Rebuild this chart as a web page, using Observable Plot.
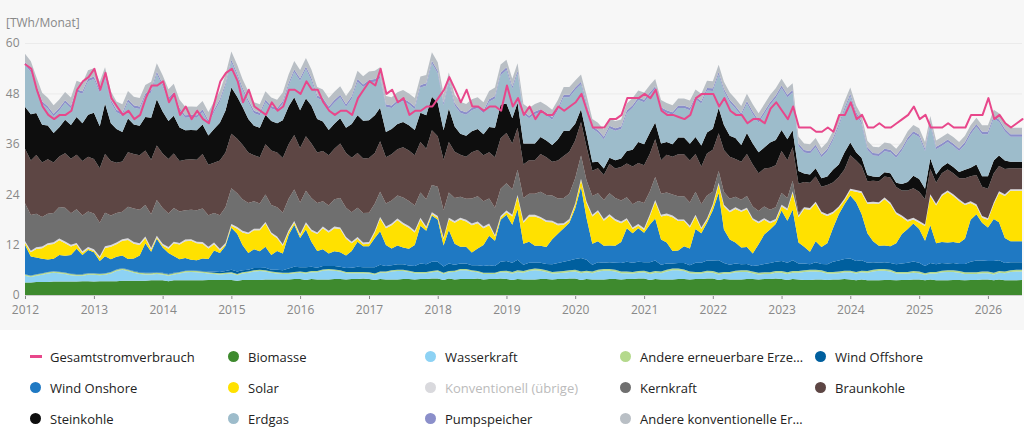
<!DOCTYPE html>
<html><head><meta charset="utf-8">
<script src="https://cdn.jsdelivr.net/npm/d3@7"></script>
<script src="https://cdn.jsdelivr.net/npm/@observablehq/plot@0.6"></script>
<style>
body{margin:0;background:#fff;font-family:"Open Sans",Roboto,sans-serif;}
#wrap{position:relative;width:1024px;}
#chart{background:#f7f7f7;height:330px;}
#unit{position:absolute;left:6px;top:14px;font-size:12px;color:#888;}
#legend{display:grid;grid-template-columns:198px 197px 195px 195px 200px;padding:17px 0 0 30px;row-gap:12px;font-size:13px;color:#222;}
.it{display:flex;align-items:center;white-space:nowrap;height:19px}
.dot{width:11px;height:11px;border-radius:50%;margin-right:9px;display:inline-block}
.ln{width:12px;height:3px;margin-right:8px;display:inline-block}
</style></head><body>
<div id="wrap"><div id="unit">[TWh/Monat]</div><div id="chart"></div><div id="legend"></div></div>
<script>
const seriesNames=["Biomasse","Wasserkraft","Andere erneuerbare Erze…","Wind Offshore","Wind Onshore","Solar","Konventionell (übrige)","Kernkraft","Braunkohle","Steinkohle","Erdgas","Pumpspeicher","Andere konventionelle Er…"];
const colors=["#3e8a2e","#8dd2f4","#b4d98c","#005f9e","#1f79c3","#ffe100","#d9d9dd","#6f6f6f","#5d4644","#0e0e0e","#9dbccb","#8b8fca","#b9bfc5"];
const biomasse=[
3.0,3.0,3.1,3.1,3.1,3.2,3.2,3.2,3.2,3.2,3.3,3.3,
3.2,3.3,3.3,3.3,3.3,3.4,3.4,3.4,3.4,3.4,3.5,3.5,
3.5,3.3,3.5,3.5,3.5,3.5,3.5,3.5,3.6,3.6,3.6,3.6,
3.6,3.4,3.6,3.6,3.6,3.6,3.7,3.7,3.7,3.7,3.7,3.8,
3.8,3.6,3.8,3.7,3.7,3.7,3.8,3.8,3.7,3.8,3.8,3.9,
3.8,3.6,3.8,3.7,3.7,3.7,3.8,3.8,3.7,3.8,3.8,3.9,
3.9,3.6,3.9,3.7,3.8,3.8,3.8,3.9,3.7,3.8,3.8,3.9,
3.8,3.6,3.8,3.7,3.7,3.7,3.8,3.8,3.7,3.8,3.8,3.9,
3.9,3.6,3.8,3.7,3.7,3.7,3.8,3.8,3.7,3.8,3.8,3.9,
3.9,3.6,3.8,3.7,3.7,3.7,3.8,3.8,3.7,3.8,3.8,3.9,
3.9,3.6,3.8,3.7,3.7,3.7,3.8,3.8,3.7,3.8,3.8,3.9,
3.8,3.6,3.8,3.7,3.6,3.6,3.7,3.7,3.6,3.7,3.7,3.8,
3.7,3.5,3.7,3.5,3.5,3.5,3.6,3.6,3.5,3.6,3.6,3.7,
3.7,3.5,3.7,3.5,3.5,3.5,3.6,3.6,3.5,3.6,3.6,3.7,
3.7,3.5,3.7,3.5,3.5,3.5,3.6];
const wasserkraft=[
1.6,1.3,1.5,1.7,2.0,2.1,2.0,1.8,1.5,1.4,1.3,1.5,
1.6,1.4,1.5,1.8,2.4,2.6,2.3,1.9,1.6,1.5,1.4,1.5,
1.4,1.3,1.4,1.6,1.9,2.0,1.9,1.8,1.5,1.4,1.3,1.4,
1.5,1.3,1.5,1.7,2.0,2.1,1.9,1.6,1.4,1.3,1.3,1.4,
1.5,1.5,1.6,1.7,2.1,2.2,2.0,1.8,1.5,1.4,1.4,1.3,
1.3,1.2,1.5,1.6,1.9,2.0,1.9,1.7,1.5,1.4,1.4,1.5,
1.7,1.4,1.5,1.8,2.1,2.1,1.8,1.5,1.3,1.2,1.2,1.5,
1.6,1.5,1.7,1.6,2.0,2.2,2.0,1.7,1.4,1.4,1.5,1.6,
1.7,1.6,1.6,1.5,1.9,2.1,2.0,1.8,1.5,1.4,1.3,1.4,
1.5,1.4,1.5,1.5,1.9,2.2,2.1,1.9,1.5,1.3,1.3,1.5,
1.4,1.3,1.3,1.4,1.7,1.8,1.7,1.4,1.2,1.2,1.2,1.4,
1.5,1.4,1.5,1.6,1.9,2.0,1.9,1.8,1.5,1.4,1.5,1.6,
1.7,1.6,1.7,1.8,2.1,2.3,2.2,2.0,1.6,1.5,1.5,1.6,
1.5,1.3,1.4,1.6,1.9,2.0,1.9,1.7,1.5,1.4,1.4,1.5,
1.5,1.4,1.6,1.7,2.0,2.1,2.0];
const andereErn=[
0.3,0.3,0.3,0.3,0.3,0.3,0.3,0.3,0.3,0.3,0.3,0.3,
0.3,0.3,0.3,0.3,0.3,0.3,0.3,0.3,0.3,0.3,0.3,0.3,
0.3,0.3,0.3,0.3,0.3,0.3,0.3,0.3,0.3,0.3,0.3,0.3,
0.3,0.3,0.3,0.3,0.3,0.3,0.3,0.3,0.3,0.3,0.3,0.3,
0.3,0.3,0.3,0.3,0.3,0.3,0.3,0.3,0.3,0.3,0.3,0.3,
0.3,0.3,0.3,0.3,0.3,0.3,0.3,0.3,0.3,0.3,0.3,0.3,
0.3,0.3,0.3,0.3,0.3,0.3,0.3,0.3,0.3,0.3,0.3,0.3,
0.4,0.4,0.4,0.4,0.4,0.4,0.4,0.4,0.4,0.4,0.4,0.4,
0.4,0.4,0.4,0.4,0.4,0.4,0.4,0.4,0.4,0.4,0.4,0.4,
0.4,0.4,0.4,0.4,0.4,0.4,0.4,0.4,0.4,0.4,0.4,0.4,
0.4,0.4,0.4,0.4,0.4,0.4,0.4,0.4,0.4,0.4,0.4,0.4,
0.4,0.4,0.4,0.4,0.4,0.4,0.4,0.4,0.4,0.4,0.4,0.4,
0.4,0.4,0.4,0.4,0.4,0.4,0.4,0.4,0.4,0.4,0.4,0.4,
0.4,0.4,0.4,0.4,0.4,0.4,0.4,0.4,0.4,0.4,0.4,0.4,
0.4,0.4,0.4,0.4,0.4,0.4,0.4];
const windOffshore=[
0.05,0.05,0.05,0.05,0.05,0.05,0.05,0.05,0.05,0.1,0.1,0.1,
0.1,0.1,0.1,0.1,0.1,0.1,0.1,0.1,0.1,0.1,0.1,0.1,
0.1,0.1,0.1,0.1,0.1,0.1,0.1,0.1,0.2,0.3,0.3,0.4,
0.6,0.6,0.5,0.4,0.5,0.4,0.6,0.4,0.6,0.6,1.0,1.2,
1.0,1.2,1.0,0.8,0.8,0.7,0.8,0.8,0.9,1.0,1.2,1.1,
1.2,1.5,1.6,1.3,1.2,1.3,1.3,1.2,1.4,2.0,1.8,2.2,
2.0,1.5,1.8,1.4,1.3,1.3,1.2,1.4,1.6,1.8,1.6,2.2,
2.3,2.2,2.5,1.5,1.6,1.4,1.5,1.5,1.8,2.0,2.2,2.3,
2.6,3.2,2.6,1.6,1.8,1.5,1.6,1.7,2.0,2.3,2.2,2.2,
2.0,2.4,2.5,1.6,1.5,1.2,1.3,1.5,1.5,2.2,2.2,2.4,
2.5,3.0,2.1,1.7,1.7,1.4,1.5,1.3,1.8,2.0,2.2,2.2,
2.4,2.3,2.6,1.8,1.6,1.3,1.8,1.5,1.8,2.4,2.6,2.8,
2.9,2.6,2.5,2.0,1.8,1.5,1.6,1.6,1.8,2.0,2.2,2.3,
2.1,1.7,2.1,1.8,1.8,1.6,1.7,1.7,2.0,2.5,2.8,2.6,
2.5,2.8,2.6,2.0,1.9,1.8,1.8];
const windOnshore=[
7,4.5,4,3.5,3,3,4,4,4.5,6,4.5,5.5,
5,3,4,3,3,3,2.5,3,4,7,5,8,
6,5,4,3,3,2.5,2.5,3,3,5,4.5,6,
10,9,6,4,4.5,4,5,3.5,4.5,4,8,10,
7,9,6,4,4,3,3.5,3.5,3,4,6,5,
5,7,8,5,4,4.5,4,4,5,9,8,11,
10,5,8,5,4,4,3,4,5,7,6,10,
11,9,12,5,5,4,4,4,6,7,8,9,
12,17,10,5,5,4,4,4,5,8,7,8,
7,9,10,6,5,3,3,4,4,8,7,9,
12,16,8,6,5,4,4,3,5,7,8,9,
12,10,12,5,4,3,5,4,5,8,11,13,
15,14,11,7,5,4,4,4,5,7,8,9,
8,6,9,5,5,5,5,5,6,10,11,9,
8,10,9,6,5,5,5];
const solar=[
0.5,1,2,2.5,3.5,3.5,3.5,3,2,1,0.5,0.3,
0.3,0.7,2,3,3,3.5,4.5,3.5,2.5,1.2,0.5,0.3,
0.5,1,3,3.5,4,4.5,4,3.5,2.5,1.5,0.6,0.3,
0.5,1.2,3,4.5,4.5,5,5.5,5,3,1.8,0.7,0.5,
0.5,1.3,2.5,4,5,5,5.5,5.5,4,1.8,0.7,0.5,
0.6,1.3,3,4,5.5,6,5.5,5,3,1.5,0.6,0.4,
0.5,1.5,2.5,5,6.5,6,6.5,6,4,2.5,1,0.5,
0.6,2,3,5,6,7,6.5,6,4,2,0.8,0.5,
0.8,1.5,3.5,6.5,7,6,7,6,4.5,2,1,0.6,
0.7,2,4,5.5,6.5,8,7,6,5,3,1,0.6,
1,2,5.5,6.5,8,8.5,9,8,5,3.5,1.5,0.8,
1,2.5,4,6,9,10,9,8,6.5,3.5,1.5,0.9,
1.2,2.5,5,7,9,10,11,10,7,4,1.8,1,
1.5,3.5,7,9,11,12,11,10,8,4,2,1.2,
1.8,3.5,7,10,12,12,12];
const konvUebrige=[
0.4,0.4,0.4,0.4,0.4,0.4,0.4,0.4,0.4,0.4,0.4,0.4,
0.4,0.4,0.4,0.4,0.4,0.4,0.4,0.4,0.4,0.4,0.4,0.4,
0.4,0.4,0.4,0.4,0.4,0.4,0.4,0.4,0.4,0.4,0.4,0.4,
0.4,0.4,0.4,0.4,0.4,0.4,0.4,0.4,0.4,0.4,0.4,0.4,
0.4,0.4,0.4,0.4,0.4,0.4,0.4,0.4,0.4,0.4,0.4,0.4,
0.4,0.4,0.4,0.4,0.4,0.4,0.4,0.4,0.4,0.4,0.4,0.4,
0.4,0.4,0.4,0.4,0.4,0.4,0.4,0.4,0.4,0.4,0.4,0.4,
0.4,0.4,0.4,0.4,0.4,0.4,0.4,0.4,0.4,0.4,0.4,0.4,
0.4,0.4,0.4,0.4,0.4,0.4,0.4,0.4,0.4,0.4,0.4,0.4,
0.4,0.4,0.4,0.4,0.4,0.4,0.4,0.4,0.4,0.4,0.4,0.4,
0.4,0.4,0.4,0.4,0.4,0.4,0.4,0.4,0.4,0.4,0.4,0.4,
0.4,0.4,0.4,0.4,0.4,0.4,0.4,0.4,0.4,0.4,0.4,0.4,
0.4,0.4,0.4,0.4,0.4,0.4,0.4,0.4,0.4,0.4,0.4,0.4,
0.4,0.4,0.4,0.4,0.4,0.4,0.4,0.4,0.4,0.4,0.4,0.4,
0.4,0.4,0.4,0.4,0.4,0.4,0.4];
const kernkraft=[
9,8.5,8,7,7,7,7.5,8,7.5,8,8.5,8.5,
8.5,8,8,7,7,6.5,7.5,8,8,7.5,8,8.5,
8.5,8,8,7.5,7,7,7.5,8,7.5,7,8,8.5,
8.5,8,7.5,7,6.5,6,6.5,6.5,7,7.5,7.5,7.5,
7.5,7.5,7.5,7,6,6,6.5,7,7,7,7,7,
7,6.5,6,5.5,5.5,5.5,6,6,6,6,6.5,6.5,
7,6.5,6,5.5,5,5,6,6,6,6,6.5,6.5,
6.5,6,6,5.5,5,5,6,6,6,6,6,6,
6,5.5,5,4.5,4,4.5,5,5,5,5,5.5,5.5,
6,5.5,5.5,5,5,5,5.5,5.5,5.5,5.5,5.5,5.5,
3,2.8,3,2.8,2.5,2.5,2.8,2.8,2.5,2.8,2.8,2.8,
2.8,2.5,2.5,0.6,0,0,0,0,0,0,0,0,
0,0,0,0,0,0,0,0,0,0,0,0,
0,0,0,0,0,0,0,0,0,0,0,0,
0,0,0,0,0,0,0];
const braunkohle=[
13,13,14,13,13,12,12,13,13,13,13,13,
13,13,14,13,12,12,13,13,13,13,13,13,
13,13,13,12,12,12,12,13,12,12,13,13,
13,13,13,12,11,11,12,13,13,13,13,13,
13,13,13,12,12,12,12,13,13,13,13,13,
13,12,12,11,11,11,12,12,12,12,12,13,
12,12,12,11,10,10,11,11,11,11,12,12,
12,11,10,8,8,8,9,9,8,9,10,10,
9,8,8,6,6,6,7,7,8,8,9,9,
9,9,9,8,9,9,10,10,10,9,9,10,
10,9,10,10,9,9,10,10,9,9,10,10,
10,9,8,7,6,6,6,6,7,7,7,7,
8,7,6,5,5,5,5,6,6,6,7,7,
7,6,6,5,5,5,5,5,6,6,7,7,
7,7,6,6,5,5,5];
const steinkohle=[
10,11,10,9,8,7,7,8,8,9,9,10,
11,10,12,9,8,7,8,7,7,8,10,11,
10,9,9,8,7,7,7,7,7,8,9,10,
11,10,9,8,7,7,7,7,7,9,9,9,
9,9,9,8,7,6,6,6,6,8,9,9,
9,9,8,6,6,6,6,6,6,7,8,8,
8,7,8,6,5,5,5,5,5,6,7,8,
7,6,6,5,4,4,4,4,4,5,6,5,
4,3,3,2,1.5,1.5,1.5,2,2,3,4,5,
5,5,4,4,3,3,4,4,4,4,5,5,
5,6,6,5,5,4,5,5,5,5,6,6,
5,5,4,3,2,2,2,2,2,3,3,4,
3,2,2,1.5,1,1,1,1,1,1.5,2,3,
3,2.5,2.5,2,1.5,1.5,1.5,1.5,2,2,2.5,2.5,
3,3,2.5,2,1.5,1.5,1.5];
const erdgas=[
10,10,6,5,4,4,4,4,4,6,7,8,
8,8,6,5,4,4,4,4,4,5,6,6,
6,5,5,4,3,3,3,3,3,4,5,6,
6,5,4,4,3,3,3,3,3,4,5,6,
7,7,6,5,5,5,5,5,5,6,8,8,
9,8,7,6,5,5,5,5,5,6,7,8,
7,6,6,5,5,5,5,5,5,6,7,7,
8,7,7,7,6,7,6,6,6,7,8,8,
8,6,7,8,7,7,7,7,7,9,10,10,
10,9,8,8,7,7,7,7,8,9,10,10,
9,8,8,8,7,7,7,7,7,8,9,10,
10,10,9,6,5,5,5,5,6,7,9,10,
11,9,8,6,5,5,5,5,6,8,10,10,
10,9,8,6,5,5,5,5,6,8,9,10,
10,10,8,7,6,6,6];
const pumpspeicher=[
0.6,0.6,0.6,0.6,0.6,0.6,0.6,0.6,0.6,0.6,0.6,0.6,
0.6,0.6,0.6,0.6,0.6,0.6,0.6,0.6,0.6,0.6,0.6,0.6,
0.6,0.6,0.6,0.6,0.6,0.6,0.6,0.6,0.6,0.6,0.6,0.6,
0.6,0.6,0.6,0.6,0.6,0.6,0.6,0.6,0.6,0.6,0.6,0.6,
0.6,0.6,0.6,0.6,0.6,0.6,0.6,0.6,0.6,0.6,0.6,0.6,
0.6,0.6,0.6,0.6,0.6,0.6,0.6,0.6,0.6,0.6,0.6,0.6,
0.6,0.6,0.6,0.6,0.6,0.6,0.6,0.6,0.6,0.6,0.6,0.6,
0.6,0.6,0.6,0.6,0.6,0.6,0.6,0.6,0.6,0.6,0.6,0.6,
0.6,0.6,0.6,0.6,0.6,0.6,0.6,0.6,0.6,0.6,0.6,0.6,
0.6,0.6,0.6,0.6,0.6,0.6,0.6,0.6,0.6,0.6,0.6,0.6,
0.6,0.6,0.6,0.6,0.6,0.6,0.6,0.6,0.6,0.6,0.6,0.6,
0.6,0.6,0.6,0.6,0.6,0.6,0.6,0.6,0.6,0.6,0.6,0.6,
0.6,0.6,0.6,0.6,0.6,0.6,0.6,0.6,0.6,0.6,0.6,0.6,
0.6,0.6,0.6,0.6,0.6,0.6,0.6,0.6,0.6,0.6,0.6,0.6,
0.6,0.6,0.6,0.6,0.6,0.6,0.6];
const andereKonv=[
2,2,2,2,2,2,2,2,2,2,2,2,
2,2,2,2,2,2,2,2,2,2,2,2,
2,2,2,2,2,2,2,2,2,2,2,2,
2,2,2,2,2,2,2,2,2,2,2,2,
2,2,2,2,2,2,2,2,2,2,2,2,
2,2,2,2,2,2,2,2,2,2,2,2,
2,2,2,2,2,2,2,2,2,2,2,2,
1.8,1.8,1.8,1.8,1.8,1.8,1.8,1.8,1.8,1.8,1.8,1.8,
1.7,1.7,1.7,1.7,1.7,1.7,1.7,1.7,1.7,1.7,1.7,1.7,
1.7,1.7,1.7,1.7,1.7,1.7,1.7,1.7,1.7,1.7,1.7,1.7,
1.7,1.7,1.7,1.7,1.7,1.7,1.7,1.7,1.7,1.7,1.7,1.7,
1.6,1.6,1.6,1.6,1.6,1.6,1.6,1.6,1.6,1.6,1.6,1.6,
1.5,1.5,1.5,1.5,1.5,1.5,1.5,1.5,1.5,1.5,1.5,1.5,
1.5,1.5,1.5,1.5,1.5,1.5,1.5,1.5,1.5,1.5,1.5,1.5,
1.5,1.5,1.5,1.5,1.5,1.5,1.5];
const verbrauch=[
55,54,49,45,43,42,43,43,44,49,51,52,
54,49,53,47,45,43,44,42,43,47,50,50,
51,46,48,43,45,42,44,42,41,46,51,53,
54,51,46,49,45,44,43,46,44,45,49,49,
48,51,49,49,46,44,43,44,44,43,47,49,
51,50,54,48,49,46,47,43,44,44,45,45,
47,49,52,49,46,49,45,45,44,45,45,44,
50,45,47,43,45,42,44,43,43,45,44,45,
46,48,44,40,40,40,42,42,43,47,47,47,
48,47,49,44,43,43,42.5,42,43,47,48,48,
48,45,47,44,43,43,41,42,42,41,44.5,46,
44,42,45,40,40,40,39,39,40,39,43,43,
46,42,43,40,40,41,40,40,41,42,43,45,
42,43,40,40,40,41,40,40,40,43,43,43,
47,42,43,41,40,41,42];
const seriesValues=[biomasse,wasserkraft,andereErn,windOffshore,windOnshore,solar,konvUebrige,kernkraft,braunkohle,steinkohle,erdgas,pumpspeicher,andereKonv];
const dates=verbrauch.map((_,i)=>new Date(Date.UTC(2012,i,1)));
const rows=[];
seriesNames.forEach((s,k)=>seriesValues[k].forEach((v,i)=>rows.push({date:dates[i],series:s,value:v})));
const line=verbrauch.map((v,i)=>({date:dates[i],value:v}));
const chart=Plot.plot({
  width:1024,height:330,marginLeft:25,marginRight:2,marginTop:43,marginBottom:35,
  style:{background:"#f7f7f7",fontFamily:"Open Sans, sans-serif",fontSize:"12px",color:"#888"},
  x:{type:"utc",domain:[dates[0],dates[dates.length-1]],ticks:d3.utcYear.every(1),tickFormat:"%Y",label:null,tickSize:4,tickPadding:6},
  y:{domain:[0,60],ticks:[0,12,24,36,48,60],label:null,tickSize:0,tickPadding:6,grid:true},
  color:{domain:seriesNames,range:colors},
  marks:[
    Plot.areaY(rows,{x:"date",y:"value",z:"series",fill:"series",order:seriesNames,fillOpacity:1}),
    Plot.lineY(line,{x:"date",y:"value",stroke:"#e8478b",strokeWidth:2}),
    Plot.ruleY([0],{stroke:"#ccc"})
  ]
});
document.getElementById("chart").appendChild(chart);
const lg=document.getElementById("legend");
const items=[["Gesamtstromverbrauch","#e8478b",true]].concat(seriesNames.map((s,k)=>[s,colors[k],false]));
items.forEach(([n,c,isLine])=>{const d=document.createElement("div");d.className="it";d.innerHTML=`<span class="${isLine?'ln':'dot'}" style="background:${c}"></span><span style="color:${n==='Konventionell (übrige)'?'#bbb':'#222'}">${n}</span>`;lg.appendChild(d);});
</script></body></html>
